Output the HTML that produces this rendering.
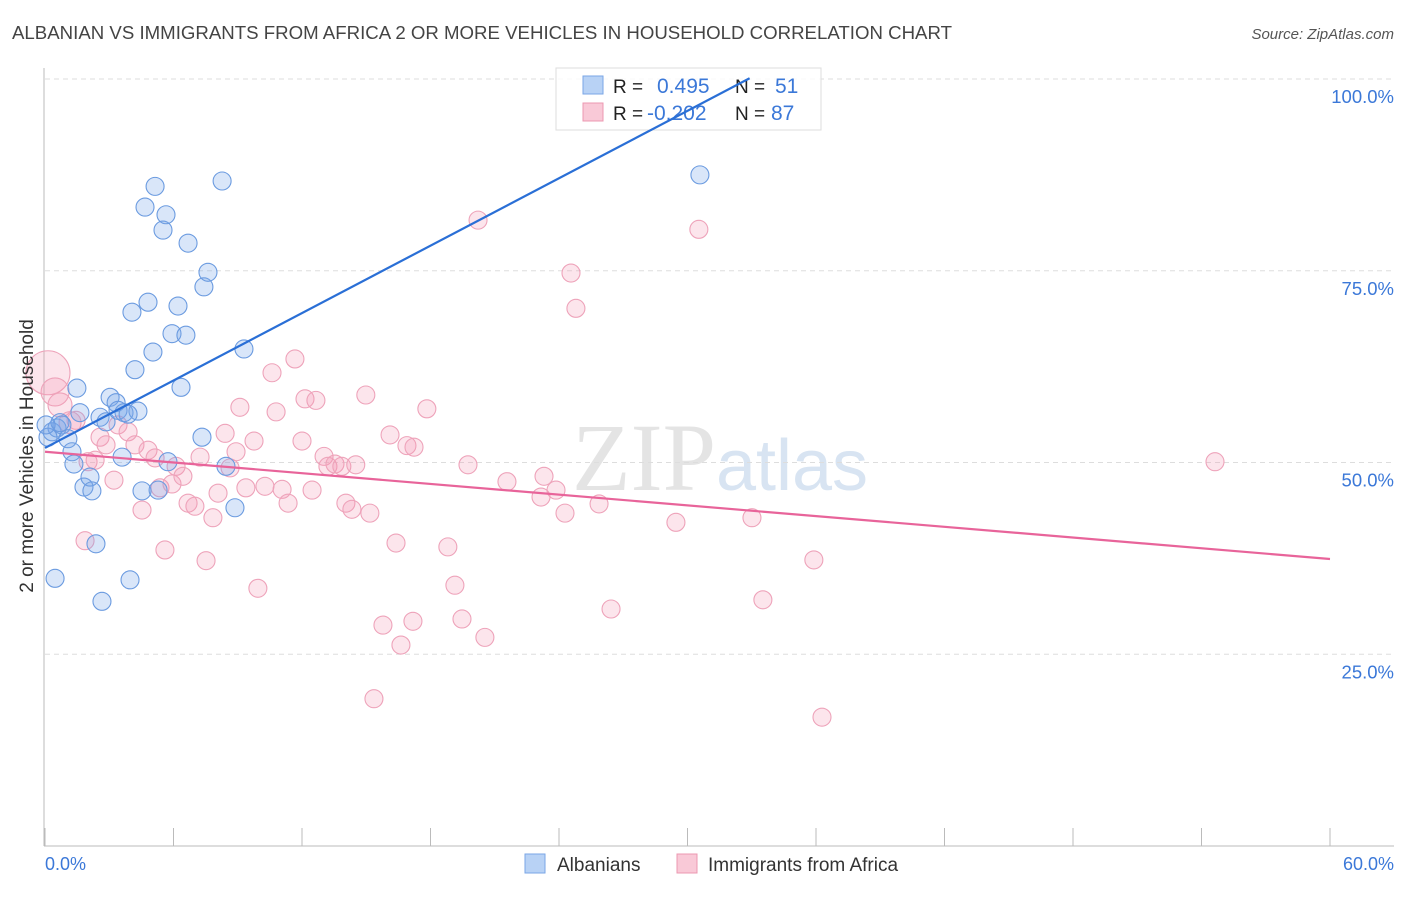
<!DOCTYPE html>
<html><head><meta charset="utf-8"><style>
body{margin:0;background:#fff;font-family:"Liberation Sans",sans-serif;}
svg text{font-family:"Liberation Sans",sans-serif;}
</style></head><body>
<svg id="chart" width="1406" height="892" xmlns="http://www.w3.org/2000/svg">
<text x="12" y="39" font-size="18" fill="#444" textLength="940" lengthAdjust="spacingAndGlyphs">ALBANIAN VS IMMIGRANTS FROM AFRICA 2 OR MORE VEHICLES IN HOUSEHOLD CORRELATION CHART</text>
<text x="1394" y="39" font-size="15" fill="#555" text-anchor="end" font-style="italic">Source: ZipAtlas.com</text>
<text x="720" y="490" font-size="96" text-anchor="middle" fill="#e4e4e4"><tspan font-family="Liberation Serif">ZIP</tspan><tspan fill="#d8e4f2" font-size="72">atlas</tspan></text>
<g id="grid"></g>
<g id="axes"></g>
<g>
<rect x="556" y="68" width="265" height="62" fill="#fff" fill-opacity="0.85" stroke="#ddd"/>
<rect x="583" y="76" width="20" height="18" fill="#b8d2f5" stroke="#7aa6e6"/>
<rect x="583" y="103" width="20" height="18" fill="#f9c9d7" stroke="#ec98b1"/>
<text x="613" y="93" font-size="19" fill="#222">R =</text>
<text x="657" y="93" font-size="21" fill="#3b78d8">0.495</text>
<text x="735" y="93" font-size="19" fill="#222">N =</text>
<text x="775" y="93" font-size="21" fill="#3b78d8">51</text>
<text x="613" y="120" font-size="19" fill="#222">R =</text>
<text x="647" y="120" font-size="21" fill="#3b78d8">-0.202</text>
<text x="735" y="120" font-size="19" fill="#222">N =</text>
<text x="771" y="120" font-size="21" fill="#3b78d8">87</text>
</g>
<g id="pts"></g>
<g id="lines"></g>
<text transform="translate(33,456) rotate(-90)" font-size="19" fill="#333" text-anchor="middle">2 or more Vehicles in Household</text>
<text x="45" y="870" font-size="18" fill="#3b78d8">0.0%</text>
<text x="1394" y="870" font-size="18" fill="#3b78d8" text-anchor="end">60.0%</text>
<g>
<rect x="525" y="854" width="20" height="19" fill="#b8d2f5" stroke="#7aa6e6"/>
<text x="557" y="871" font-size="19" fill="#333">Albanians</text>
<rect x="677" y="854" width="20" height="19" fill="#f9c9d7" stroke="#ec98b1"/>
<text x="708" y="871" font-size="19" fill="#333">Immigrants from Africa</text>
</g>
</svg>
<script>
const blueX=[0.47,0.33,0.56,0.79,1.07,1.26,1.35,1.49,1.63,1.82,2.10,2.19,2.38,2.66,2.57,2.85,3.04,3.32,3.41,3.60,3.69,3.97,4.06,4.20,4.34,4.53,4.67,4.81,5.04,5.14,5.28,5.51,5.65,5.74,5.93,6.21,6.35,6.58,6.68,7.33,7.42,7.61,8.27,8.45,8.87,9.29,30.58,0.14,0.70,3.88,0.05];
const blueY=[34.9,54.0,54.5,54.9,53.1,51.4,49.8,59.7,56.5,46.8,48.1,46.3,39.4,31.9,55.9,55.3,58.5,57.8,56.8,50.7,56.5,34.7,69.6,62.1,56.7,46.3,83.3,70.9,64.4,86.0,46.4,80.3,82.3,50.1,66.8,70.4,59.8,66.6,78.6,53.3,72.9,74.8,86.7,49.5,44.1,64.8,87.5,53.3,55.2,56.3,54.9];
const pinkX=[0.14,0.47,0.70,1.17,1.45,1.87,2.01,2.34,2.57,2.85,3.22,3.41,3.88,4.20,4.53,4.81,5.14,5.37,5.60,5.93,6.12,6.44,6.68,7.00,7.24,7.52,7.84,8.08,8.41,8.64,8.92,9.10,9.38,9.76,9.94,10.27,10.60,10.79,11.07,11.35,11.67,12.00,12.14,12.47,12.65,13.03,13.21,13.54,13.86,14.05,14.33,14.51,14.98,15.17,15.36,15.78,16.11,16.39,16.62,16.90,17.18,17.23,17.83,18.81,19.14,19.47,19.75,20.22,20.54,21.57,23.16,23.30,23.86,24.28,24.56,24.79,25.87,26.43,29.46,30.53,33.01,33.52,35.90,36.28,54.63];
const pinkY=[61.7,59.2,57.5,55.2,55.5,39.8,50.1,50.3,53.3,52.3,47.7,54.9,54.0,52.3,43.8,51.6,50.6,46.7,38.6,47.2,49.5,48.2,44.7,44.3,50.7,37.2,42.8,46.0,53.8,49.3,51.4,57.2,46.7,52.8,33.6,46.9,61.7,56.6,46.5,44.7,63.5,52.8,58.3,46.4,58.1,50.8,49.5,49.8,49.5,44.7,43.9,49.7,58.8,43.4,19.2,28.8,53.6,39.5,26.2,52.2,29.3,52.0,57.0,39.0,34.0,29.6,49.7,81.6,27.2,47.5,45.5,48.2,46.4,43.4,74.7,70.1,44.6,30.9,42.2,80.4,42.8,32.1,37.3,16.8,50.1];
const pinkR=[22,14,12,11];
const trendIntercept=[51.9,51.4];
const trendSlope=[1.465,-0.233];
const trendEnd=[32.9,60];
const yTicks=[25,50,75,100];
const NS="http://www.w3.org/2000/svg";
const X=v=>45+v/60*1285, Y=v=>846-v/100*767;
function mk(tag,attrs,parent){const e=document.createElementNS(NS,tag);for(const k in attrs)e.setAttribute(k,attrs[k]);document.getElementById(parent).appendChild(e);return e;}
yTicks.forEach(t=>{
 const l=mk('line',{x1:45,x2:1394,y1:Y(t),y2:Y(t),stroke:'#ddd','stroke-dasharray':'5,4'},'grid');
 
 
 const tx=mk('text',{x:1394,y:Y(t)+24,'font-size':18.5,fill:'#3b78d8','text-anchor':'end'},'grid');
 tx.textContent=t.toFixed(1)+'%';
 
 
});
const ax=mk('line',{x1:44,x2:44,y1:68,y2:846,stroke:'#bbb'},'axes');


const bx=mk('line',{x1:44,x2:1394,y1:846,y2:846,stroke:'#bbb'},'axes');


for(let i=0;i<=10;i++){const t=mk('line',{x1:X(i*6),x2:X(i*6),y1:828,y2:846,stroke:'#bbb'},'axes');
 
 }
pinkX.forEach((v,i)=>{const c=mk('circle',{cx:X(v),cy:Y(pinkY[i]),r:pinkR[i]||9,fill:'rgba(242,150,178,0.25)',stroke:'#eea3ba','stroke-width':1.1},'pts');
 
 });
blueX.forEach((v,i)=>{const c=mk('circle',{cx:X(v),cy:Y(blueY[i]),r:9,fill:'rgba(120,165,235,0.28)',stroke:'#6b9be0','stroke-width':1.1},'pts');
 
 });
['#2a6fd6','#e8649a'].forEach((col,i)=>{const l=mk('line',{x1:X(0),y1:Y(trendIntercept[i]),x2:X(trendEnd[i]),y2:Y(trendIntercept[i]+trendSlope[i]*trendEnd[i]),stroke:col,'stroke-width':2.2},'lines');
 
 });
</script>
</body></html>
